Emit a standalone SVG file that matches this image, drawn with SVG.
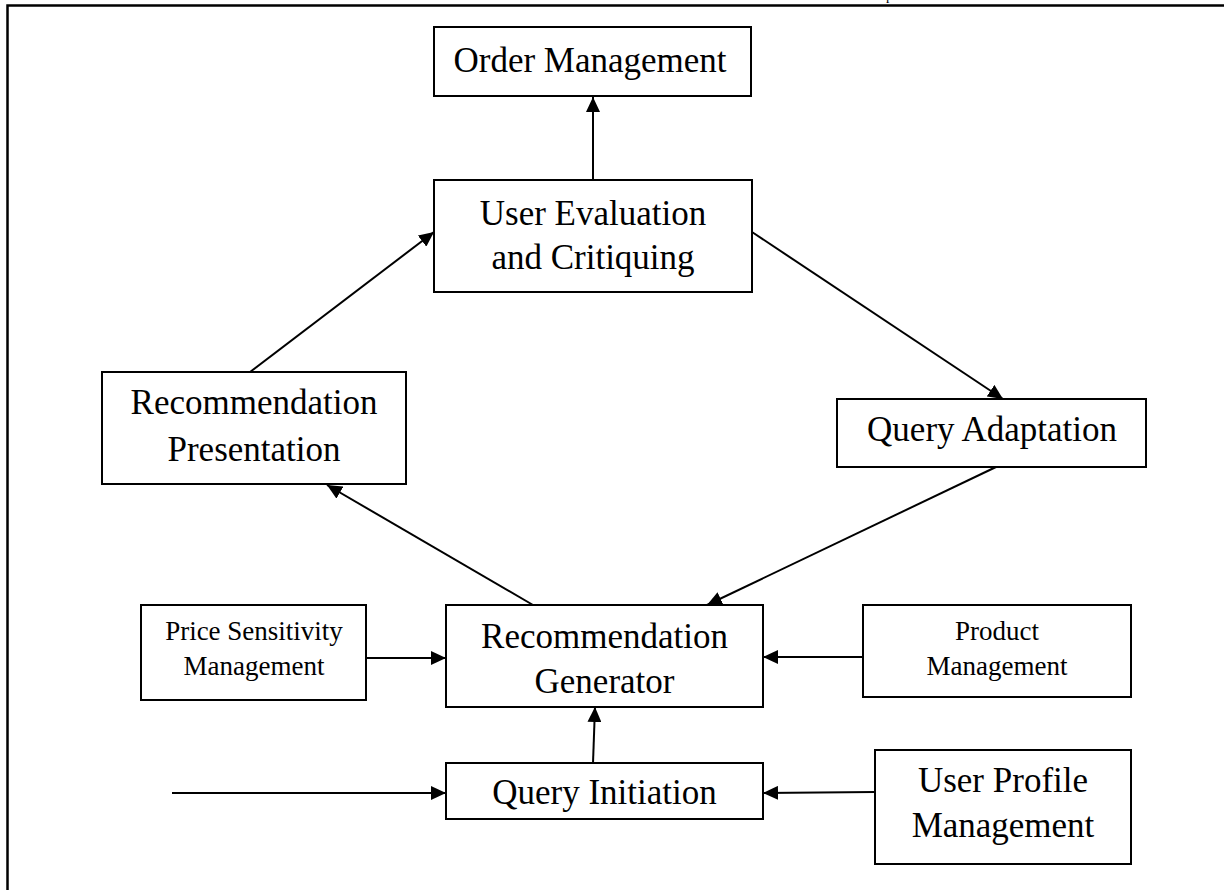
<svg xmlns="http://www.w3.org/2000/svg" width="1224" height="890" viewBox="0 0 1224 890">
<style>
.box{fill:#fff;stroke:#000;stroke-width:2}
.t{font-family:"Liberation Serif","Times New Roman",serif;font-size:35px;fill:#000;text-anchor:middle}
.s{font-family:"Liberation Serif","Times New Roman",serif;font-size:27px;fill:#000;text-anchor:middle}
.c{stroke:#000;stroke-width:2;fill:none;marker-end:url(#ah)}
.frame{stroke:#000;stroke-width:2.5;fill:none}
</style>
<defs>
<marker id="ah" markerUnits="userSpaceOnUse" markerWidth="16" markerHeight="14" refX="15" refY="7" orient="auto">
<path d="M0,0 L15,7 L0,14 z" fill="#000"/>
</marker>
</defs>
<rect width="1224" height="890" fill="#fff"/>
<text x="886" y="0" font-family="Liberation Serif, serif" font-size="14" fill="#000">p</text>
<path class="frame" d="M1224,5.5 H7.5 V890"/>
<g id="connectors">
<line class="c" x1="593" y1="180" x2="593" y2="97"/>
<line class="c" x1="250" y1="372" x2="434" y2="232"/>
<line class="c" x1="752" y1="232" x2="1003" y2="399"/>
<line class="c" x1="996" y1="467" x2="707" y2="605"/>
<line class="c" x1="533" y1="605" x2="327" y2="485"/>
<line class="c" x1="366" y1="658" x2="446" y2="658"/>
<line class="c" x1="863" y1="657" x2="763" y2="657"/>
<line class="c" x1="593" y1="763" x2="595" y2="707"/>
<line class="c" x1="172" y1="793" x2="446" y2="793"/>
<line class="c" x1="875" y1="792" x2="763" y2="793"/>
</g>
<g id="order-management">
<rect class="box" x="434" y="27" width="317" height="69"/>
<text class="t" x="590" y="72">Order Management</text>
</g>
<g id="user-evaluation">
<rect class="box" x="434" y="180" width="318" height="112"/>
<text class="t" x="593" y="225">User Evaluation</text>
<text class="t" x="593" y="269">and Critiquing</text>
</g>
<g id="recommendation-presentation">
<rect class="box" x="102" y="372" width="304" height="112"/>
<text class="t" x="254" y="414">Recommendation</text>
<text class="t" x="254" y="461">Presentation</text>
</g>
<g id="query-adaptation">
<rect class="box" x="837" y="399" width="309" height="68"/>
<text class="t" x="992" y="441">Query Adaptation</text>
</g>
<g id="price-sensitivity">
<rect class="box" x="141" y="605" width="225" height="95"/>
<text class="s" x="254" y="640">Price Sensitivity</text>
<text class="s" x="254" y="675">Management</text>
</g>
<g id="recommendation-generator">
<rect class="box" x="446" y="605" width="317" height="102"/>
<text class="t" x="604.5" y="648">Recommendation</text>
<text class="t" x="604.5" y="693">Generator</text>
</g>
<g id="product-management">
<rect class="box" x="863" y="605" width="268" height="92"/>
<text class="s" x="997" y="640">Product</text>
<text class="s" x="997" y="675">Management</text>
</g>
<g id="query-initiation">
<rect class="box" x="446" y="763" width="317" height="56"/>
<text class="t" x="604.5" y="804">Query Initiation</text>
</g>
<g id="user-profile">
<rect class="box" x="875" y="750" width="256" height="114"/>
<text class="t" x="1003" y="792">User Profile</text>
<text class="t" x="1003" y="837">Management</text>
</g>
</svg>
